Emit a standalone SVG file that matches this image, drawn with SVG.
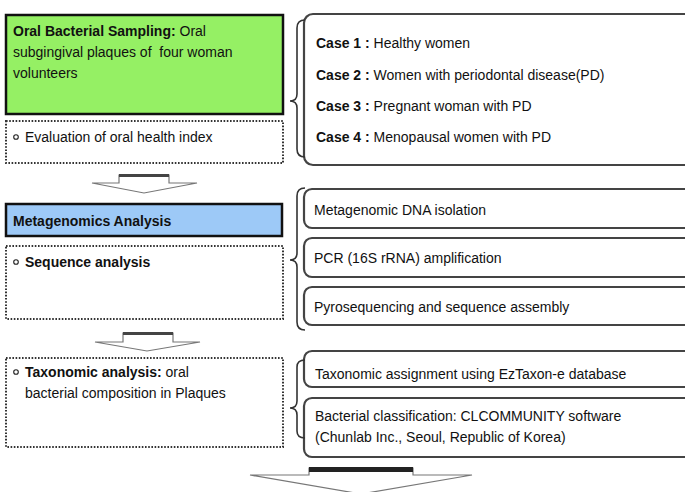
<svg xmlns="http://www.w3.org/2000/svg" width="685" height="492" viewBox="0 0 685 492">
<defs>
<style>
text{font-family:"Liberation Sans",Arial,sans-serif;font-size:14px;fill:#111}
.b{font-weight:bold}
.solid{stroke:#111;stroke-width:2.5}
.dot{fill:#fff;stroke:#333;stroke-width:2;stroke-dasharray:1.6 1.6}
.rbox{fill:#fff;stroke:#444;stroke-width:2.2}
.brace{fill:none;stroke:#333;stroke-width:1.6}
.arrow{fill:#fff;stroke:#777;stroke-width:1.2}
.bul{fill:#fff;stroke:#222;stroke-width:1.1}
</style>
</defs>
<rect width="685" height="492" fill="#fff"/>

<g id="sampling">
<rect x="6" y="15" width="277" height="99" fill="#95F064" class="solid"/>
<text x="13" y="36"><tspan class="b">Oral Bacterial Sampling:</tspan> Oral</text>
<text x="13" y="57">subgingival plaques of &#160;four woman</text>
<text x="13" y="78">volunteers</text>
</g>
<g id="health-index">
<rect x="6" y="121" width="277" height="42" class="dot"/>
<circle cx="16" cy="137" r="2.3" class="bul"/>
<text x="25" y="142">Evaluation of oral health index</text>
</g>
<g id="cases">
<rect x="304" y="14" width="400" height="151" rx="9" class="rbox"/>
<text x="316" y="48"><tspan class="b">Case 1 :</tspan> Healthy women</text>
<text x="316" y="79.5"><tspan class="b">Case 2 :</tspan> Women with periodontal disease(PD)</text>
<text x="316" y="111"><tspan class="b">Case 3 :</tspan> Pregnant woman with PD</text>
<text x="316" y="142"><tspan class="b">Case 4 :</tspan> Menopausal women with PD</text>
</g>

<g id="metagenomics">
<rect x="6" y="204" width="276" height="32" fill="#9DC9F7" class="solid"/>
<text x="13" y="226" class="b">Metagenomics Analysis</text>
</g>
<g id="sequence-analysis">
<rect x="6" y="246" width="277" height="73" class="dot"/>
<circle cx="16" cy="262" r="2.3" class="bul"/>
<text x="25" y="267" class="b">Sequence analysis</text>
</g>
<g id="dna-isolation">
<rect x="304" y="189" width="400" height="39" rx="8" class="rbox"/>
<text x="314" y="215">Metagenomic DNA isolation</text>
</g>
<g id="pcr">
<rect x="304" y="238" width="400" height="39" rx="8" class="rbox"/>
<text x="314" y="263">PCR (16S rRNA) amplification</text>
</g>
<g id="pyrosequencing">
<rect x="304" y="287" width="400" height="38" rx="8" class="rbox"/>
<text x="314" y="312">Pyrosequencing and sequence assembly</text>
</g>

<g id="taxonomic-analysis">
<rect x="6" y="358" width="277" height="89" class="dot"/>
<circle cx="16" cy="372" r="2.3" class="bul"/>
<text x="25" y="377"><tspan class="b">Taxonomic analysis:</tspan> oral</text>
<text x="25" y="398">bacterial composition in Plaques</text>
</g>
<g id="taxonomic-assignment">
<rect x="304" y="351" width="400" height="36" rx="8" class="rbox"/>
<text x="315" y="379">Taxonomic assignment using EzTaxon-e database</text>
</g>
<g id="classification">
<rect x="304" y="398" width="400" height="59" rx="8" class="rbox"/>
<text x="315" y="421">Bacterial classification: CLCOMMUNITY software</text>
<text x="315" y="442">(Chunlab Inc., Seoul, Republic of Korea)</text>
</g>

<g id="connectors">
<path class="brace" d="M305 20 Q297 20 297 28 L297 94 Q297 101 290 101 Q297 101 297 108 L297 149 Q297 157 305 157"/>
<path class="brace" d="M305 188 Q297 188 297 196 L297 253 Q297 260 290 260 Q297 260 297 267 L297 322 Q297 330 305 330"/>
<path class="brace" d="M305 360 Q297 360 297 367 L297 401 Q297 408 290 408 Q297 408 297 415 L297 431 Q297 438 305 438"/>

<polygon class="arrow" points="119,175 169,175 169,183 197,183 144,193 92,183 119,183"/>
<line x1="119" y1="175.5" x2="169" y2="175.5" stroke="#444" stroke-width="3"/>

<polygon class="arrow" points="123,333 173,333 173,342 200,342 147,351 95,342 123,342"/>
<line x1="123" y1="333.5" x2="173" y2="333.5" stroke="#444" stroke-width="3"/>

<polygon class="arrow" points="309,468 413,468 413,475 472,475 361,494 250,475 309,475"/>
<line x1="309" y1="469.5" x2="413" y2="469.5" stroke="#222" stroke-width="5"/>
</g>
</svg>
